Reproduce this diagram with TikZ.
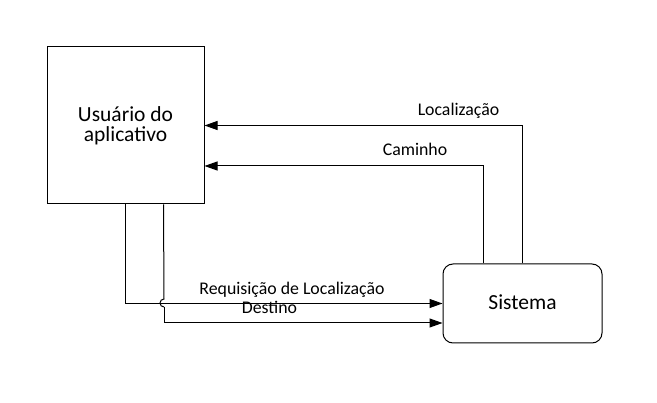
\documentclass[tikz,border=0pt]{standalone}
\usepackage{fontspec}
\setmainfont{Carlito}
\usetikzlibrary{arrows.meta}
\begin{document}
\begin{tikzpicture}[x=1pt,y=1pt,
  boxstyle/.style={draw, line width=1pt, align=center, inner sep=0pt},
  arr/.style={line width=1pt, -{Triangle[length=13pt,width=9pt]}},
  lbl/.style={anchor=base, inner sep=0pt, font=\fontsize{17.8}{20}\selectfont}]
\useasboundingbox (0,0) rectangle (657,-403);
\fill[white] (0,0) rectangle (657,-403);
\node[boxstyle, minimum width=157pt, minimum height=157pt] (u) at (125.5,-125.5) {};
\node[anchor=base, inner sep=0pt, font=\fontsize{21.5}{20}\selectfont] (ut1) at (125.5,-121.7) {Usuário do};
\node[anchor=base, inner sep=0pt, font=\fontsize{21.5}{20}\selectfont] (ut2) at (125.5,-141.7) {aplicativo};
\node[boxstyle, rounded corners=10pt, minimum width=159pt, minimum height=79pt] (s) at (522.5,-303.5) {};
\node[anchor=base, inner sep=0pt, font=\fontsize{21.5}{20}\selectfont] (st) at (522.5,-309.3) {Sistema};
% top connectors
\draw[arr] ([xshift=-0.5pt]s.north) |- (u.east);
\draw[arr] ([xshift=-39.5pt]s.north) |- ([yshift=-40.5pt]u.east);
% bottom connectors
\draw[arr] ([xshift=79pt]u.south west) |- (s.west);
\coordinate (h1) at (164,-299);
\coordinate (h2) at (164,-307);
\draw[line width=1pt] ([xshift=117pt]u.south west) -- (h1) arc[start angle=90, end angle=270, radius=4pt] -- (h2);
\draw[arr] (h2) |- ([yshift=-19.5pt]s.west);
% labels
\node[lbl] (l1) at (458.5,-116) {Localização};
\node[lbl] (l2) at (415,-155.7) {Caminho};
\node[lbl] (l3) at (292,-295) {Requisição de Localização};
\node[lbl] (l4) at (269.5,-314) {Destino};
\end{tikzpicture}
\end{document}
